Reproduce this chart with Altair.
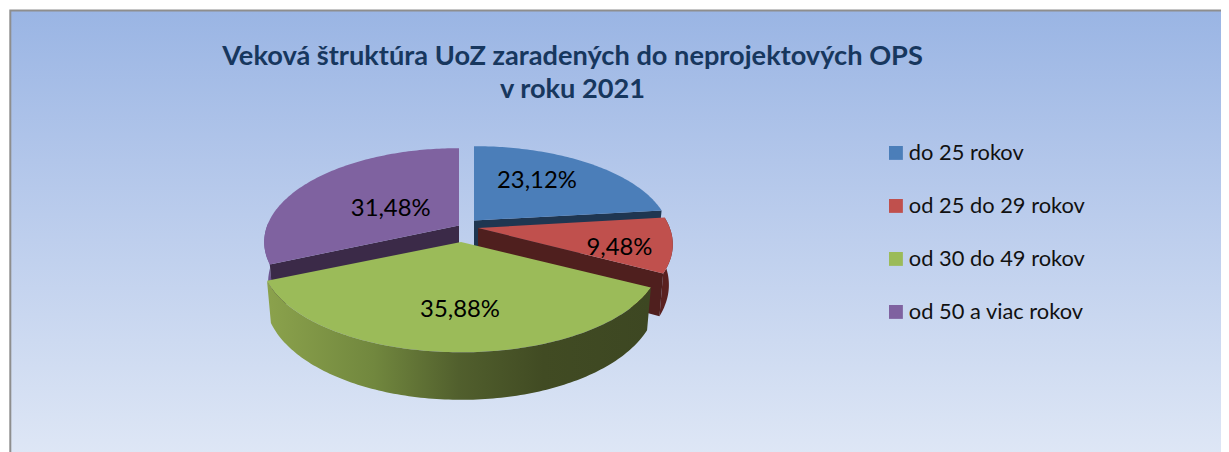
import math
import altair as alt

CATEGORIES = ["do 25 rokov", "od 25 do 29 rokov", "od 30 do 49 rokov", "od 50 a viac rokov"]
SHARES = [23.12, 9.48, 35.88, 31.48]
LABELS = ["23,12%", "9,48%", "35,88%", "31,48%"]
TITLE_LINES = ["Veková štruktúra UoZ zaradených do neprojektových OPS", "v roku 2021"]

TOP_COLORS = ["#4b7eb9", "#c0504d", "#9bbb59", "#7f62a0"]
WALL_COLORS = ["#1f3651", "#4f1f1e", "#3f4a22", "#3b2a48"]
SIDE_COLORS = ["#1f3651", "#5a2120", "#3f4a22", "#6d5590"]

# layout of the exploded, tilted pie (canvas pixels = page pixels - 8)
APEX = [(466, 212.5), (470, 220), (453, 234), (451, 217.6)]
SLICE_SCALE = [0.99, 0.985, 1.01, 0.985]
SLICE_SCALE_Y = [0.96, 1.0, 1.0, 1.0]
LABEL_FRAC = [(0.55, 0.68), (0.715, 1.12), (0.12, 0.60), (0.46, 0.39)]
LABEL_DY = 1.5
RX, RY, PERSP, DEPTH, BOTTOM_SHRINK = 194.7, 91, 0.175, 39.2, 0.98


def project(theta, i=None):
    u, v = math.sin(theta), -math.cos(theta)
    s = 1 / (1 - PERSP * v)
    k = 1.0 if i is None else SLICE_SCALE[i]
    ky = 1.0 if i is None else SLICE_SCALE_Y[i]
    return RX * u * s * k, RY * v * s * ky, s


def top_pt(i, theta):
    x, y, _ = project(theta, i)
    return [APEX[i][0] + x, APEX[i][1] + y]


def bottom_pt(i, theta):
    x, y, s = project(theta, i)
    return [APEX[i][0] + x * BOTTOM_SHRINK, APEX[i][1] + y + DEPTH * s]


def arc_thetas(a, b):
    n = max(2, int(abs(b - a) / math.radians(1)) + 1)
    return [a + (b - a) * k / n for k in range(n + 1)]


def feature(ring, **props):
    ring = ring + [ring[0]]
    return {"type": "Feature", "properties": props,
            "geometry": {"type": "Polygon", "coordinates": [ring]}}


def band(i, a, b):
    ts = arc_thetas(a, b)
    return [top_pt(i, t) for t in ts] + [bottom_pt(i, t) for t in reversed(ts)]


def cut(i, t):
    ax, ay = APEX[i]
    return [[ax, ay], top_pt(i, t), bottom_pt(i, t), [ax, ay + DEPTH]]


total = sum(SHARES)
edges = [0.0]
for v in SHARES:
    edges.append(edges[-1] + v / total * 2 * math.pi)

tops = [
    feature([list(APEX[i])] + [top_pt(i, t) for t in arc_thetas(edges[i], edges[i + 1])], name=CATEGORIES[i])
    for i in range(4)
]
walls = [
    feature(band(3, edges[3], math.radians(272)), fill=SIDE_COLORS[3]),
    feature(cut(3, edges[3]), fill=WALL_COLORS[3]),
    feature(cut(0, edges[1]), fill=WALL_COLORS[0]),
    feature(band(1, edges[1], edges[2]), fill=SIDE_COLORS[1]),
    feature(cut(1, edges[2]), fill=WALL_COLORS[1]),
]
green_wall = [feature(band(2, edges[2], edges[3]))]

proj = {"type": "identity", "scale": 1, "translate": [0, 0]}

background = alt.Chart(alt.Data(values=[{"a": 1}])).mark_rect(
    fill=alt.Gradient(
        gradient="linear", x1=0, y1=0, x2=0, y2=1,
        stops=[
            alt.GradientStop(offset=0, color="#9ab5e4"),
            alt.GradientStop(offset=0.33, color="#b2c6ea"),
            alt.GradientStop(offset=1, color="#e0e8f6"),
        ],
    ),
    stroke="#8e8e8e", strokeWidth=2,
).encode(x=alt.value(2.3), x2=alt.value(1240), y=alt.value(2.6), y2=alt.value(460))

walls_layer = alt.Chart(alt.Data(values=walls)).mark_geoshape(strokeWidth=0).encode(
    fill=alt.Fill("properties.fill:N", scale=None, legend=None)
)
walls_layer.projection = alt.Projection(**proj)

tops_layer = alt.Chart(alt.Data(values=tops)).mark_geoshape(strokeWidth=0).encode(
    fill=alt.Fill(
        "properties.name:N",
        scale=alt.Scale(domain=CATEGORIES, range=TOP_COLORS),
        sort=CATEGORIES,
        legend=alt.Legend(
            title=None, orient="none", legendX=877, legendY=134,
            symbolType="square", symbolSize=193, symbolStrokeWidth=0,
            labelFont="Lato", labelFontSize=21.85, labelColor="#111111",
            labelOffset=2, rowPadding=30, labelLimit=300,
        ),
    )
)
tops_layer.projection = alt.Projection(**proj)

green_layer = alt.Chart(alt.Data(values=green_wall)).mark_geoshape(
    strokeWidth=0,
    fill=alt.Gradient(
        gradient="linear", x1=0, y1=0, x2=1, y2=0,
        stops=[
            alt.GradientStop(offset=0, color="#8ba24c"),
            alt.GradientStop(offset=0.28, color="#71873e"),
            alt.GradientStop(offset=0.5, color="#515f2d"),
            alt.GradientStop(offset=0.72, color="#414b23"),
            alt.GradientStop(offset=1, color="#3d4722"),
        ],
    ),
)
green_layer.projection = alt.Projection(**proj)

label_rows = []
for i, lab in enumerate(LABELS):
    x, y, _ = project((edges[i] + edges[i + 1]) / 2)
    label_rows.append({
        "label": lab,
        "lx": APEX[i][0] + x * LABEL_FRAC[i][0],
        "ly": APEX[i][1] + y * LABEL_FRAC[i][1] + LABEL_DY,
    })

labels_layer = alt.Chart(alt.Data(values=label_rows)).mark_text(
    font="Lato", fontSize=23.85, color="#000000", align="center", baseline="middle"
).encode(
    x=alt.X("lx:Q", scale=None, axis=None),
    y=alt.Y("ly:Q", scale=None, axis=None),
    text="label:N",
)

title_rows = [{"t": t, "tx": 564.5, "ty": ty} for t, ty in zip(TITLE_LINES, (48.5, 81.5))]
title_layer = alt.Chart(alt.Data(values=title_rows)).mark_text(
    font="Lato", fontSize=27.2, fontWeight="bold", color="#17375e", align="center", baseline="middle"
).encode(
    x=alt.X("tx:Q", scale=None, axis=None),
    y=alt.Y("ty:Q", scale=None, axis=None),
    text="t:N",
)

chart = alt.layer(
    background, walls_layer, tops_layer, green_layer, labels_layer, title_layer
).resolve_scale(
    x="independent", y="independent", fill="independent"
).properties(
    width=1213, height=444, padding=0, autosize=alt.AutoSizeParams(type="none"),
    background="white",
).configure_view(stroke=None)

chart.save("out.html", embed_options={"renderer": "svg", "actions": False})
